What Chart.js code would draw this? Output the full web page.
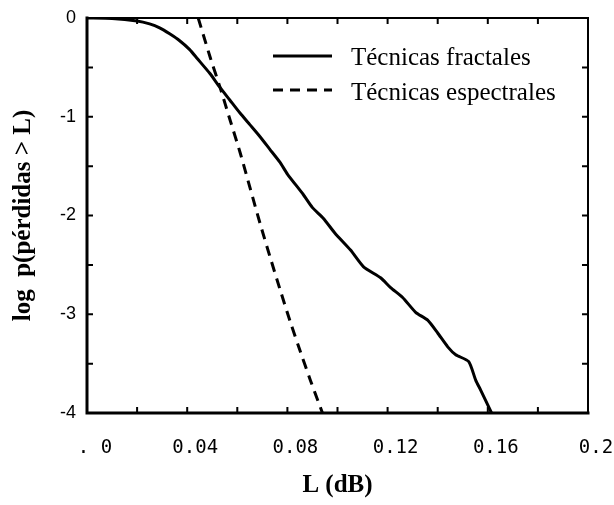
<!DOCTYPE html>
<html>
<head>
<meta charset="utf-8">
<script src="https://cdn.jsdelivr.net/npm/chart.js@4"></script>
<style>
  html, body { margin: 0; padding: 0; background: #fff; }
  #wrap { width: 614px; height: 505px; }
</style>
</head>
<body>
<div id="wrap"><canvas id="perdidasChart"></canvas></div>
<script>
// curva obtenida con técnicas fractales
const fractalL = [0, 0.01, 0.02, 0.025, 0.029, 0.033, 0.037, 0.041, 0.044, 0.049, 0.053, 0.057,
  0.061, 0.065, 0.069, 0.073, 0.077, 0.080, 0.0864, 0.090, 0.0944, 0.099, 0.1052, 0.1104,
  0.1172, 0.1212, 0.126, 0.1312, 0.136, 0.14, 0.144, 0.1472, 0.1524, 0.1552, 0.1572, 0.1615];
const fractalLog = [0, -0.004, -0.03, -0.06, -0.10, -0.16, -0.23, -0.32, -0.41, -0.56, -0.70, -0.83,
  -0.96, -1.08, -1.2, -1.33, -1.46, -1.58, -1.79, -1.92, -2.03, -2.18, -2.35, -2.52,
  -2.63, -2.73, -2.83, -2.98, -3.06, -3.19, -3.33, -3.41, -3.48, -3.67, -3.77, -4.0];

// curva obtenida con técnicas espectrales
const espectralL = [0.0444, 0.0492, 0.0532, 0.0572, 0.0612, 0.0652, 0.0692, 0.0732, 0.0772,
  0.0812, 0.0852, 0.0892, 0.094];
const espectralLog = [0, -0.40, -0.71, -1.04, -1.37, -1.73, -2.09, -2.43, -2.76,
  -3.08, -3.38, -3.67, -4.0];

const seriesNames = ['Técnicas fractales', 'Técnicas espectrales'];
const xTickLabels = ['. 0', '0.04', '0.08', '0.12', '0.16', '0.2'];
const yTickLabels = ['0', '-1', '-2', '-3', '-4'];
const xTitle = 'L (dB)';
const yTitle = 'log  p(pérdidas > L)';

const toPoints = (xs, ys) => xs.map((x, i) => ({ x: x, y: ys[i] }));

// marco con marcas hacia dentro y leyenda dentro del área
const framePlugin = {
  id: 'frame',
  afterDatasetsDraw(chart) {
    const ctx = chart.ctx;
    const a = chart.chartArea;
    const sx = chart.scales.x, sy = chart.scales.y;
    ctx.save();
    ctx.strokeStyle = '#000';
    ctx.lineCap = 'square';

    ctx.lineWidth = 3;
    ctx.beginPath();
    ctx.moveTo(a.left, a.top);
    ctx.lineTo(a.left, a.bottom);
    ctx.lineTo(a.right, a.bottom);
    ctx.stroke();
    ctx.lineWidth = 2;
    ctx.beginPath();
    ctx.moveTo(a.left, a.top);
    ctx.lineTo(a.right, a.top);
    ctx.lineTo(a.right, a.bottom);
    ctx.stroke();

    const tk = 5;
    ctx.lineWidth = 2;
    ctx.beginPath();
    for (let v = 0.02; v < 0.2 - 1e-9; v += 0.02) {
      const px = sx.getPixelForValue(v);
      ctx.moveTo(px, a.bottom); ctx.lineTo(px, a.bottom - tk);
      ctx.moveTo(px, a.top); ctx.lineTo(px, a.top + tk);
    }
    for (let v = -3.5; v < 0; v += 0.5) {
      const py = sy.getPixelForValue(v);
      ctx.moveTo(a.left, py); ctx.lineTo(a.left + tk, py);
      ctx.moveTo(a.right, py); ctx.lineTo(a.right - tk, py);
    }
    ctx.stroke();

    // leyenda
    const lx0 = 273, lx1 = 332, tx = 351;
    const rows = [{ y: 56, base: 65 }, { y: 90, base: 100 }];
    chart.data.datasets.forEach((ds, i) => {
      const r = rows[i];
      ctx.lineWidth = 3;
      ctx.lineCap = 'butt';
      ctx.setLineDash(ds.borderDash || []);
      ctx.beginPath();
      ctx.moveTo(lx0, r.y);
      ctx.lineTo(lx1, r.y);
      ctx.stroke();
      ctx.setLineDash([]);
      ctx.fillStyle = '#000';
      ctx.font = '25px "Liberation Serif", "Times New Roman", serif';
      ctx.textBaseline = 'alphabetic';
      ctx.textAlign = 'left';
      ctx.fillText(ds.label, tx, r.base);
    });
    ctx.restore();
  }
};

new Chart(document.getElementById('perdidasChart'), {
  type: 'line',
  data: {
    datasets: [
      {
        label: seriesNames[0],
        data: toPoints(fractalL, fractalLog),
        borderColor: '#000',
        borderWidth: 3,
        pointRadius: 0,
        tension: 0.2
      },
      {
        label: seriesNames[1],
        data: toPoints(espectralL, espectralLog),
        borderColor: '#000',
        borderWidth: 3,
        borderDash: [10, 7],
        pointRadius: 0,
        tension: 0.3
      }
    ]
  },
  options: {
    responsive: true,
    maintainAspectRatio: false,
    animation: false,
    layout: { padding: { top: 18, right: 26, left: 0, bottom: 0 } },
    plugins: {
      legend: { display: false },
      tooltip: { enabled: false }
    },
    scales: {
      x: {
        type: 'linear',
        min: 0,
        max: 0.2,
        grid: { display: false },
        border: { display: false },
        ticks: {
          stepSize: 0.04,
          padding: 16,
          labelOffset: 8,
          color: '#000',
          font: { family: '"DejaVu Sans Mono", monospace', size: 19 },
          callback: (v, i) => xTickLabels[i]
        },
        title: {
          display: true,
          text: xTitle,
          color: '#000',
          padding: { top: 0, bottom: 4 },
          font: { family: '"Liberation Serif", "Times New Roman", serif', size: 25, weight: 'bold' }
        },
        afterFit: (s) => {
          s.height = 92;
          s.paddingLeft = 0;
          s.paddingRight = 0;
        }
      },
      y: {
        min: -4,
        max: 0,
        grid: { display: false },
        border: { display: false },
        ticks: {
          stepSize: 1,
          padding: 3,
          color: '#000',
          font: { family: '"Liberation Sans", Arial, sans-serif', size: 18 },
          callback: (v, i, ticks) => yTickLabels[ticks.length - 1 - i]
        },
        title: {
          display: true,
          text: yTitle,
          color: '#000',
          padding: { top: 9, bottom: 0 },
          font: { family: '"Liberation Serif", "Times New Roman", serif', size: 25, weight: 'bold' }
        },
        afterFit: (s) => {
          s.width = 87;
          s.paddingTop = 0;
          s.paddingBottom = 0;
        }
      }
    }
  },
  plugins: [framePlugin]
});
</script>
</body>
</html>
